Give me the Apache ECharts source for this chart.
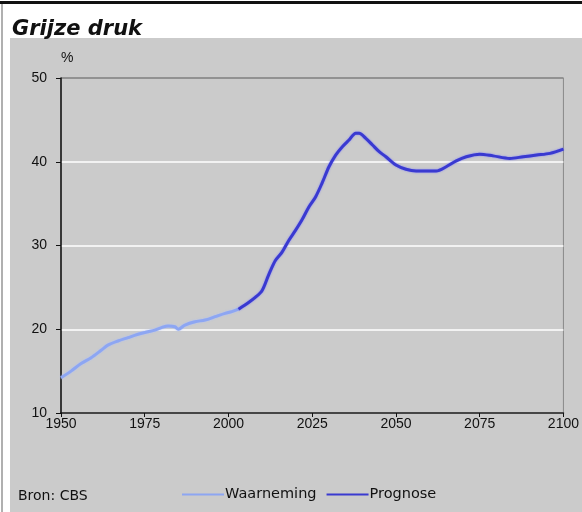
<!DOCTYPE html>
<html><head><meta charset="utf-8">
<script src="https://cdn.jsdelivr.net/npm/echarts@6/dist/echarts.min.js"></script>
<style>html,body{margin:0;padding:0;background:#fff}#c{width:582px;height:512px}</style>
</head><body><div id="c"></div>
<script>
const titleText = 'Grijze druk';
const sourceText = 'Bron: CBS';
const xTicks = [1950, 1975, 2000, 2025, 2050, 2075, 2100];
const yTicks = [10, 20, 30, 40, 50];
const obsYears = [1950,1953,1956,1959,1962,1964,1967,1970,1973,1976,1978,1980,1982,1984,1985,1987,1990,1993,1996,1999,2001,2003];
const obsValues = [14.2,15.0,15.9,16.6,17.5,18.1,18.6,19.0,19.4,19.7,19.9,20.2,20.4,20.3,20.0,20.5,20.9,21.1,21.5,21.9,22.1,22.4];
const progYears = [2003,2006,2008,2010,2012,2014,2016,2018,2020,2022,2024,2026,2028,2030,2032,2034,2036,2038,2039,2041,2043,2045,2047,2050,2053,2056,2062,2065,2068,2071,2075,2079,2084,2088,2092,2096,2100];
const progValues = [22.4,23.2,23.8,24.6,26.5,28.2,29.2,30.6,31.8,33.1,34.6,35.8,37.5,39.4,40.8,41.8,42.6,43.4,43.4,42.8,42.0,41.2,40.6,39.6,39.1,38.9,38.9,39.4,40.1,40.6,40.9,40.7,40.4,40.6,40.8,41.0,41.5];

const chart = echarts.init(document.getElementById('c'));
const font = 'Liberation Sans, Arial, sans-serif';
chart.setOption({
  backgroundColor: '#fff',
  animation: false,
  textStyle: {fontFamily: font},
  graphic: [
    {type:'rect', shape:{x:10,y:38,width:572,height:474}, style:{fill:'#cbcbcb'}, z:-10},
    {type:'rect', shape:{x:0,y:1,width:582,height:3}, style:{fill:'#111'}, z:-10},
    {type:'rect', shape:{x:1,y:4,width:2,height:508}, style:{fill:'#b0b0b0'}, z:-10},
    {type:'text', left:18, top:489, style:{text:sourceText, font:'14px DejaVu Sans', fill:'#111'}}
  ],
  title: {text: titleText, left: 7, top: 14,
    textStyle:{fontFamily:'DejaVu Sans', fontStyle:'italic', fontWeight:'bold', fontSize:21, color:'#111'}},
  grid: {left:61, top:78, width:503, height:335, show:true, backgroundColor:'#cbcbcb', borderColor:'#8a8a8a', borderWidth:1},
  legend: {left:177, top:482, itemWidth:42, itemHeight:2, itemGap:10, icon:'rect',
    textStyle:{fontSize:14.5, color:'#111', fontFamily:'DejaVu Sans', padding:[0,0,0,-4]},
    data:['Waarneming','Prognose']},
  xAxis: {type:'value', min:xTicks[0], max:xTicks[xTicks.length-1], interval:25,
    axisLine:{lineStyle:{color:'#111', width:1.5}},
    axisTick:{show:true, length:4, lineStyle:{color:'#111'}},
    axisLabel:{fontSize:14, color:'#111', margin:4, fontFamily:font, formatter:v=>String(v)},
    splitLine:{show:false}},
  yAxis: {type:'value', min:yTicks[0], max:yTicks[yTicks.length-1], interval:10,
    name:'%', nameLocation:'end', nameGap:13,
    nameTextStyle:{fontSize:14, color:'#111', align:'left', padding:[0,0,0,0]},
    axisLine:{show:true, lineStyle:{color:'#111', width:1.5}},
    axisTick:{show:true, length:5, lineStyle:{color:'#111'}},
    axisLabel:{fontSize:14, color:'#111', margin:14, fontFamily:font},
    splitLine:{show:true, lineStyle:{color:['#fff','#fff','#fff','#fff','#8a8a8a'], width:1.5}}},
  series: [
    {name:'Waarneming', type:'line', showSymbol:false, symbol:'none', smooth:0.3,
      data: obsYears.map((y,i)=>[y, obsValues[i]]),
      color:'#8da6f2',
      lineStyle:{color:'#8da6f2', width:3, shadowColor:'rgba(170,190,255,0.9)', shadowBlur:2}},
    {name:'Prognose', type:'line', showSymbol:false, symbol:'none', smooth:0.3,
      data: progYears.map((y,i)=>[y, progValues[i]]),
      color:'#3a3ad0',
      lineStyle:{color:'#3a3ad0', width:3, shadowColor:'rgba(120,120,255,0.9)', shadowBlur:2}}
  ]
});
</script></body></html>
